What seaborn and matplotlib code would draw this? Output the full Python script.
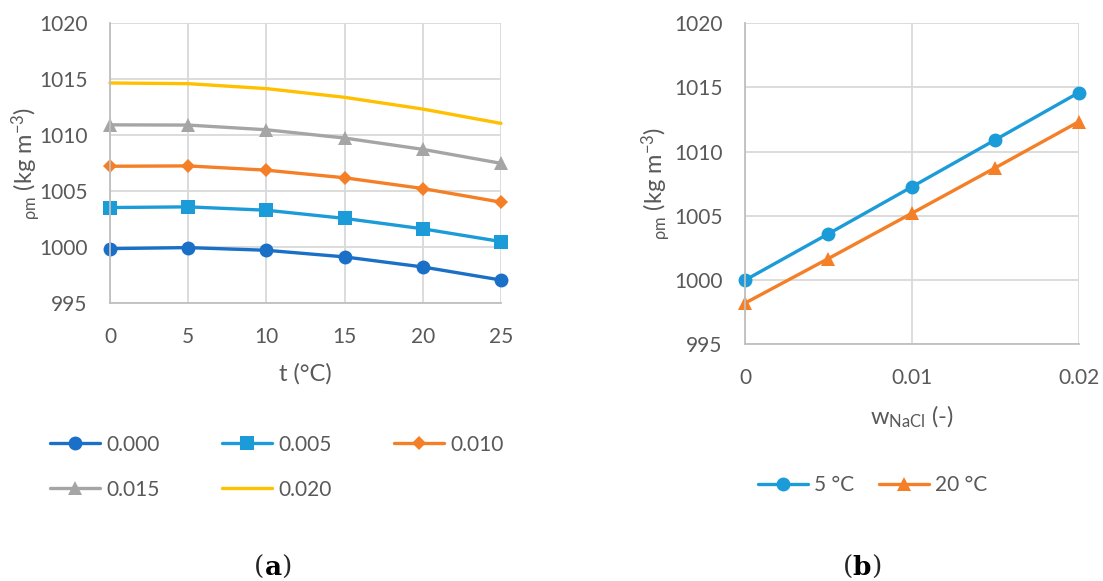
import matplotlib
matplotlib.use('Agg')

import matplotlib.pyplot as plt
import seaborn as sns
import pandas as pd
import numpy as np

# panel (a): density vs temperature for several NaCl mass fractions
temps = [0, 5, 10, 15, 20, 25]
rho_000 = [999.86, 999.95, 999.71, 999.12, 998.22, 997.05]
rho_005 = [1003.53, 1003.59, 1003.29, 1002.56, 1001.63, 1000.49]
rho_010 = [1007.22, 1007.25, 1006.87, 1006.19, 1005.23, 1004.01]
rho_015 = [1010.92, 1010.90, 1010.48, 1009.74, 1008.73, 1007.48]
rho_020 = [1014.66, 1014.60, 1014.16, 1013.38, 1012.33, 1011.05]
labels_a = ['0.000', '0.005', '0.010', '0.015', '0.020']

# panel (b): density vs NaCl mass fraction at two temperatures
w_nacl = [0, 0.005, 0.01, 0.015, 0.02]
rho_5C = [999.97, 1003.59, 1007.25, 1010.92, 1014.60]
rho_20C = [998.18, 1001.66, 1005.19, 1008.74, 1012.33]
labels_b = ['5 °C', '20 °C']

txt = '#595959'
grid_c = '#D9D9D9'

sns.set_style('white')
plt.rcParams['font.family'] = ['Lato', 'DejaVu Sans']
plt.rcParams['mathtext.fontset'] = 'custom'
plt.rcParams['mathtext.rm'] = 'Lato'
plt.rcParams['mathtext.default'] = 'regular'

fig = plt.figure(figsize=(11.03, 5.81), dpi=100)
ax1 = fig.add_axes([0.0997, 0.4785, 0.3545, 0.4815])
ax2 = fig.add_axes([0.6754, 0.408, 0.3028, 0.552])


def style_axis(ax, ylab_x):
    ax.set_ylim(995, 1020)
    ax.set_yticks([995, 1000, 1005, 1010, 1015, 1020])
    ax.grid(True, color=grid_c, linewidth=1.3)
    ax.set_axisbelow(True)
    for s in ['top', 'right']:
        ax.spines[s].set_visible(False)
    for s in ['left', 'bottom']:
        ax.spines[s].set_color('#BFBFBF')
        ax.spines[s].set_linewidth(1.3)
    ax.tick_params(length=0, labelsize=15, labelcolor=txt)
    ax.tick_params(axis='y', pad=16)
    ax.tick_params(axis='x', pad=17)
    ax.set_ylabel('$_{ρm}$ (kg m$^{-3}$)', fontsize=17, color=txt)
    ax.yaxis.set_label_coords(ylab_x, 0.5)


series_a = [rho_000, rho_005, rho_010, rho_015, rho_020]
colors_a = ['#1A6FC6', '#1B9CD8', '#F47F27', '#A5A5A5', '#FFC000']
markers_a = ['o', 's', 'D', '^', None]
msizes_a = [10, 10, 7.5, 10, 0]
for vals, lab, c, m, ms in zip(series_a, labels_a, colors_a, markers_a, msizes_a):
    sns.lineplot(x=temps, y=vals, ax=ax1, color=c, marker=m, markersize=ms,
                 markeredgewidth=0, linewidth=2.4, label=lab, clip_on=False)
ax1.set_xlim(0, 25)
ax1.set_xticks(temps)
style_axis(ax1, -0.17)
ax1.set_xlabel('t (°C)', fontsize=17, color=txt, labelpad=12)
h1, l1 = ax1.get_legend_handles_labels()
ax1.get_legend().remove()
# legend fills column by column, reorder so rows read 0.000 0.005 0.010 / 0.015 0.020
order = [0, 3, 1, 4, 2]
fig.legend([h1[i] for i in order], [l1[i] for i in order], ncol=3, loc='center left',
           bbox_to_anchor=(0.028, 0.196), frameon=False,
           fontsize=15, labelcolor=txt, handlelength=2.4, handletextpad=0.3,
           columnspacing=3.0, labelspacing=1.2)

sns.lineplot(x=w_nacl, y=rho_5C, ax=ax2, color='#1B9CD8', marker='o', markersize=10,
             markeredgewidth=0, linewidth=2.4, label=labels_b[0], clip_on=False)
sns.lineplot(x=w_nacl, y=rho_20C, ax=ax2, color='#F47F27', marker='^', markersize=10,
             markeredgewidth=0, linewidth=2.4, label=labels_b[1], clip_on=False)
ax2.set_xlim(0, 0.02)
ax2.set_xticks([0, 0.01, 0.02])
ax2.set_xticklabels(['0', '0.01', '0.02'])
style_axis(ax2, -0.215)
ax2.set_xlabel('w$_{NaCl}$ (-)', fontsize=17, color=txt, labelpad=12)
h2, l2 = ax2.get_legend_handles_labels()
ax2.get_legend().remove()
fig.legend(h2, l2, ncol=2, loc='center left', bbox_to_anchor=(0.67, 0.165), frameon=False,
           fontsize=15, labelcolor=txt, handlelength=2.4, handletextpad=0.3,
           columnspacing=1.2)

# panel captions
for xc, letter in [(0.2475, 'a'), (0.7815, 'b')]:
    t = fig.text(xc, 0.024, letter, ha='center', va='center', fontsize=19,
                 fontweight='bold', family='DejaVu Serif', color='black')
    plt.annotate('(', xy=(0, 0), xycoords=t, ha='right', va='bottom', fontsize=19,
                 family='DejaVu Serif', annotation_clip=False)
    plt.annotate(')', xy=(1, 0), xycoords=t, ha='left', va='bottom', fontsize=19,
                 family='DejaVu Serif', annotation_clip=False)

fig.savefig('out.png', dpi=100)
